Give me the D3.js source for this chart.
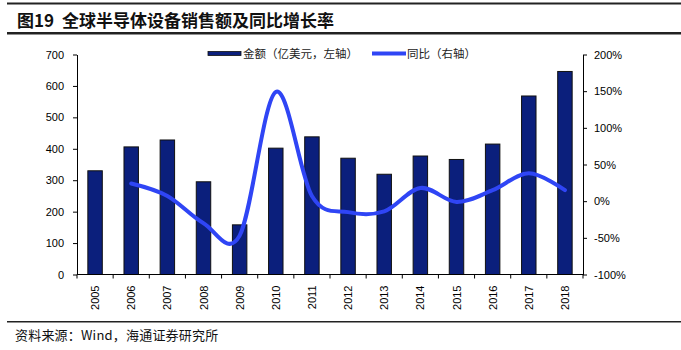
<!DOCTYPE html>
<html lang="zh">
  <head>
    <meta charset="UTF-8" />
    <title>全球半导体设备销售额及同比增长率</title>
    <style>
      body { margin: 0; background: #fff; }
      .axis text { font-family: "Liberation Sans", Arial, sans-serif; font-size: 11px; fill: #000; }
      .axis path, .axis line { stroke: #000; stroke-width: 1px; }
      .legend text { font-family: "Noto Sans CJK SC", sans-serif; font-size: 11.5px; fill: #222; }
    </style>
  </head>
  <body>
    <script src="https://cdn.jsdelivr.net/npm/d3@7"></script>
    <script>
      var years = ["2005", "2006", "2007", "2008", "2009", "2010", "2011",
                   "2012", "2013", "2014", "2015", "2016", "2017", "2018"];
      // 金额（亿美元）
      var sales = [330, 406, 428, 295, 158, 402, 438, 370, 319, 377, 366, 415, 568, 646];
      // 同比 (%) - no value for 2005
      var yoy = [null, 24, 7, -30, -47, 149, 7, -15, -14, 18, -1, 15, 38, 15];
      var leftTicks = [0, 100, 200, 300, 400, 500, 600, 700];
      var rightTicks = [-100, -50, 0, 50, 100, 150, 200];

      var w = 681, h = 350;
      var margin = { top: 54.5, left: 77, right: 98, bottom: 75.5 };

      var svg = d3.select("body").append("svg")
                  .attr("width", w)
                  .attr("height", h);

      // header / footer rules
      svg.append("rect").attr("x", 7).attr("y", 2.5).attr("width", w - 7).attr("height", 2).attr("fill", "#222");
      svg.append("rect").attr("x", 7).attr("y", 32).attr("width", w - 7).attr("height", 2.5).attr("fill", "#222");
      svg.append("rect").attr("x", 7).attr("y", 321).attr("width", w - 7).attr("height", 1.5).attr("fill", "#222");

      var title = svg.append("text")
         .attr("y", 26.5)
         .attr("font-family", "'Noto Sans CJK SC', sans-serif")
         .attr("font-size", "17px")
         .attr("font-weight", "bold")
         .attr("fill", "#111");
      title.append("tspan").attr("x", 17).text("图19");
      title.append("tspan").attr("x", 62).text("全球半导体设备销售额及同比增长率");

      svg.append("text")
         .attr("x", 15).attr("y", 340)
         .attr("font-family", "'Noto Sans CJK SC', sans-serif")
         .attr("font-size", "13px")
         .attr("letter-spacing", "0.2px")
         .attr("fill", "#111")
         .text("资料来源：Wind，海通证券研究所");

      var innerW = w - margin.left - margin.right;
      var innerH = h - margin.top - margin.bottom;

      var g = svg.append("g")
                 .attr("transform", "translate(" + margin.left + "," + margin.top + ")");

      var xScale = d3.scaleBand()
                     .domain(years)
                     .range([0, innerW])
                     .paddingInner(0.6)
                     .paddingOuter(0.3);

      var yLeft = d3.scaleLinear().domain([0, 700]).range([innerH, 0]);
      var yRight = d3.scaleLinear().domain([-100, 200]).range([innerH, 0]);

      // bars
      g.selectAll(".bar")
       .data(years)
       .enter()
       .append("rect")
       .attr("class", "bar")
       .attr("x", function(d) { return xScale(d); })
       .attr("y", function(d, i) { return yLeft(sales[i]); })
       .attr("width", xScale.bandwidth())
       .attr("height", function(d, i) { return innerH - yLeft(sales[i]); })
       .attr("fill", "#0b1f7c")
       .attr("stroke", "#111")
       .attr("stroke-width", 1);

      // yoy line
      var pts = years.map(function(d, i) { return { year: d, v: yoy[i] }; })
                     .filter(function(d) { return d.v !== null; });
      var line = d3.line()
                   .x(function(d) { return xScale(d.year) + xScale.bandwidth() / 2; })
                   .y(function(d) { return yRight(d.v); })
                   .curve(d3.curveCardinal.tension(0));
      g.append("path")
       .datum(pts)
       .attr("d", line)
       .attr("fill", "none")
       .attr("stroke", "#2f45f5")
       .attr("stroke-width", 4)
       .attr("stroke-linecap", "round");

      // axes
      var step = innerW / years.length;
      var xAxis = g.append("g")
                   .attr("class", "axis")
                   .attr("transform", "translate(0," + innerH + ")");
      xAxis.append("line").attr("x1", 0).attr("x2", innerW).attr("y1", 0).attr("y2", 0);
      xAxis.selectAll(".tk")
           .data(d3.range(years.length + 1))
           .enter().append("line")
           .attr("x1", function(d) { return d * step; })
           .attr("x2", function(d) { return d * step; })
           .attr("y1", 0).attr("y2", 4);
      xAxis.selectAll(".lbl")
           .data(years)
           .enter().append("text")
           .attr("transform", function(d) {
             return "translate(" + (xScale(d) + xScale.bandwidth() / 2 + 4) + ",11) rotate(-90)";
           })
           .attr("text-anchor", "end")
           .text(function(d) { return d; });

      g.append("g")
       .attr("class", "axis")
       .call(d3.axisLeft(yLeft).tickValues(leftTicks).tickSize(4).tickPadding(9).tickSizeOuter(0));

      g.append("g")
       .attr("class", "axis")
       .attr("transform", "translate(" + innerW + ",0)")
       .call(d3.axisRight(yRight).tickValues(rightTicks).tickSize(4).tickPadding(7).tickSizeOuter(0)
               .tickFormat(function(d) { return d + "%"; }));

      // legend
      var legend = svg.append("g").attr("class", "legend");
      legend.append("rect").attr("x", 208).attr("y", 51.5).attr("width", 33).attr("height", 4)
            .attr("fill", "#0b1f7c").attr("stroke", "#111").attr("stroke-width", 0.8);
      legend.append("text").attr("x", 243).attr("y", 58).text("金额（亿美元，左轴）");
      legend.append("line").attr("x1", 372).attr("x2", 406).attr("y1", 53.5).attr("y2", 53.5)
            .attr("stroke", "#2f45f5").attr("stroke-width", 4);
      legend.append("text").attr("x", 407).attr("y", 58).text("同比（右轴）");
    </script>
  </body>
</html>
